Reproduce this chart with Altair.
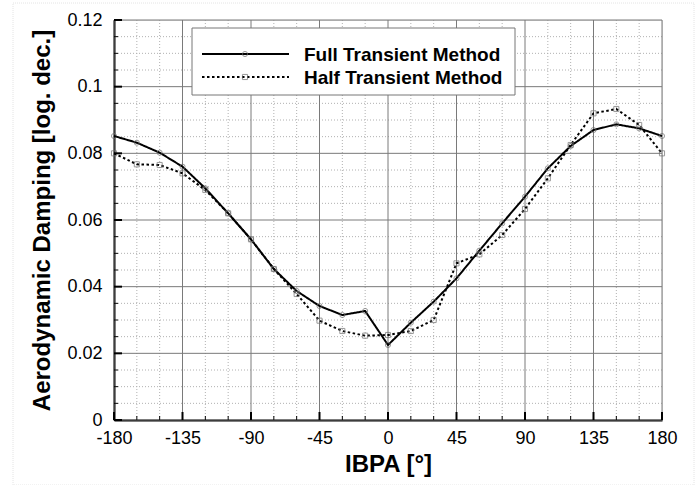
import altair as alt
import pandas as pd

# Inter-blade phase angle (deg) and aerodynamic damping (log. dec.)
ibpa = [-180, -165, -150, -135, -120, -105, -90, -75, -60, -45, -30, -15, 0,
        15, 30, 45, 60, 75, 90, 105, 120, 135, 150, 165, 180]
full_transient = [0.0852, 0.0832, 0.0802, 0.0760, 0.0695, 0.0620, 0.0542, 0.0453,
                  0.0387, 0.0342, 0.0315, 0.0327, 0.0225, 0.0292, 0.0355, 0.0425,
                  0.0508, 0.0590, 0.0670, 0.0755, 0.0822, 0.0870, 0.0887, 0.0875,
                  0.0852]
half_transient = [0.0800, 0.0767, 0.0765, 0.0740, 0.0690, 0.0620, 0.0542, 0.0453,
                  0.0378, 0.0298, 0.0267, 0.0253, 0.0255, 0.0267, 0.0300, 0.0470,
                  0.0497, 0.0555, 0.0633, 0.0725, 0.0825, 0.0920, 0.0933, 0.0885,
                  0.0800]
methods = ["Full Transient Method", "Half Transient Method"]

x_major = [-180, -135, -90, -45, 0, 45, 90, 135, 180]
x_minor = [v for v in range(-180, 181, 15) if v % 45 != 0]
y_major = [0, 0.02, 0.04, 0.06, 0.08, 0.1, 0.12]
y_minor = [round(0.005 * i, 3) for i in range(0, 25) if i % 4 != 0]

FONT = "Liberation Sans"
W, H = 548, 400

curves = pd.DataFrame({
    "x": ibpa * 2,
    "y": full_transient + half_transient,
    "method": [methods[0]] * len(ibpa) + [methods[1]] * len(ibpa),
})

xscale = alt.Scale(domain=[-180, 180], nice=False, zero=False)
yscale = alt.Scale(domain=[0, 0.12], nice=False)

xaxis = alt.Axis(values=x_major, grid=False, ticks=False, domainColor="black",
                 domainWidth=2, labelFont=FONT, labelFontSize=18, labelColor="black",
                 labelPadding=9, titleFont=FONT, titleFontSize=24, titleFontWeight="bold",
                 titleColor="black", titlePadding=5, labelFlush=False,
                 labelExpr="'' + datum.value")
yaxis = alt.Axis(values=y_major, grid=False, ticks=False, domainColor="black",
                 domainWidth=2, labelFont=FONT, labelFontSize=18, labelColor="black",
                 labelPadding=12, titleFont=FONT, titleFontSize=24, titleFontWeight="bold",
                 titleColor="black", titlePadding=12, labelFlush=False,
                 labelExpr="datum.value == 0 ? '0' : format(datum.value, '.2~f')")

X = alt.X("x:Q", scale=xscale, axis=xaxis, title="IBPA [°]")
Y = alt.Y("y:Q", scale=yscale, axis=yaxis, title="Aerodynamic Damping [log. dec.]")

# grid lines
minor_vx = alt.Chart(pd.DataFrame({"x": x_minor})).mark_rule(
    color="#b0b0b0", strokeWidth=1, strokeDash=[1, 2]).encode(x=X)
minor_hy = alt.Chart(pd.DataFrame({"y": y_minor})).mark_rule(
    color="#b0b0b0", strokeWidth=1, strokeDash=[1, 2]).encode(y=Y)
major_vx = alt.Chart(pd.DataFrame({"x": x_major})).mark_rule(
    color="#7a7a7a", strokeWidth=1).encode(x=X)
major_hy = alt.Chart(pd.DataFrame({"y": y_major})).mark_rule(
    color="#7a7a7a", strokeWidth=1).encode(y=Y)

# inward ticks on the left and bottom axes
tick_x_major = alt.Chart(pd.DataFrame({"x": x_major})).mark_rule(
    color="black", strokeWidth=2).encode(x=X, y=alt.value(H), y2=alt.value(H - 8))
tick_x_minor = alt.Chart(pd.DataFrame({"x": x_minor})).mark_rule(
    color="black", strokeWidth=1).encode(x=X, y=alt.value(H), y2=alt.value(H - 4))
tick_y_major = alt.Chart(pd.DataFrame({"y": y_major})).mark_rule(
    color="black", strokeWidth=2).encode(y=Y, x=alt.value(0), x2=alt.value(8))
tick_y_minor = alt.Chart(pd.DataFrame({"y": y_minor})).mark_rule(
    color="black", strokeWidth=1).encode(y=Y, x=alt.value(0), x2=alt.value(4))

dash_scale = alt.Scale(domain=methods, range=[[1, 0], [2.5, 2.5]])
shape_scale = alt.Scale(domain=methods, range=["circle", "square"])

lines = alt.Chart(curves).mark_line(color="black", strokeWidth=2).encode(
    x=X, y=Y,
    strokeDash=alt.StrokeDash("method:N", scale=dash_scale, legend=None),
    detail="method:N",
)
points = alt.Chart(curves).mark_point(
    filled=False, color="#6e6e6e", size=26, strokeWidth=1).encode(
    x=X, y=Y,
    shape=alt.Shape("method:N", scale=shape_scale, legend=None),
)

# boxed legend in the upper part of the plot
one = alt.Data(values=[{}])
leg_box = alt.Chart(one).mark_rect(fill="white", stroke="#777777", strokeWidth=1).encode(
    x=alt.value(78), x2=alt.value(401), y=alt.value(8), y2=alt.value(75))
leg_rows = []
for label, dash, shape, yy in zip(methods, [[1, 0], [2.5, 2.5]], ["circle", "square"], [34, 57]):
    leg_rows.append(alt.Chart(one).mark_rule(color="black", strokeWidth=2, strokeDash=dash).encode(
        x=alt.value(88), x2=alt.value(175), y=alt.value(yy)))
    leg_rows.append(alt.Chart(one).mark_point(
        shape=shape, filled=False, color="#6e6e6e", size=26, strokeWidth=1).encode(
        x=alt.value(131), y=alt.value(yy)))
    leg_rows.append(alt.Chart(one).mark_text(
        text=label, font=FONT, fontSize=19, fontWeight="bold", color="black",
        align="left", baseline="middle").encode(x=alt.value(190), y=alt.value(yy + 1)))

# faint page frame
frame = alt.Chart(one).mark_rect(fill=None, stroke="#e4e4e4", strokeWidth=1,
                                 strokeDash=[1, 1]).encode(
    x=alt.value(-101), x2=alt.value(580), y=alt.value(-17), y2=alt.value(465))

chart = alt.layer(
    frame, minor_vx, minor_hy, major_vx, major_hy,
    lines, points,
    tick_x_minor, tick_x_major, tick_y_minor, tick_y_major,
    leg_box, *leg_rows,
).properties(
    width=W, height=H,
    autosize=alt.AutoSizeParams(type="none"),
    padding={"left": 114, "top": 20, "right": 35, "bottom": 65},
).configure_view(
    stroke="#707070", strokeWidth=1.5,
).configure(background="white")

chart.save("out.html", embed_options={"renderer": "svg", "actions": False})
